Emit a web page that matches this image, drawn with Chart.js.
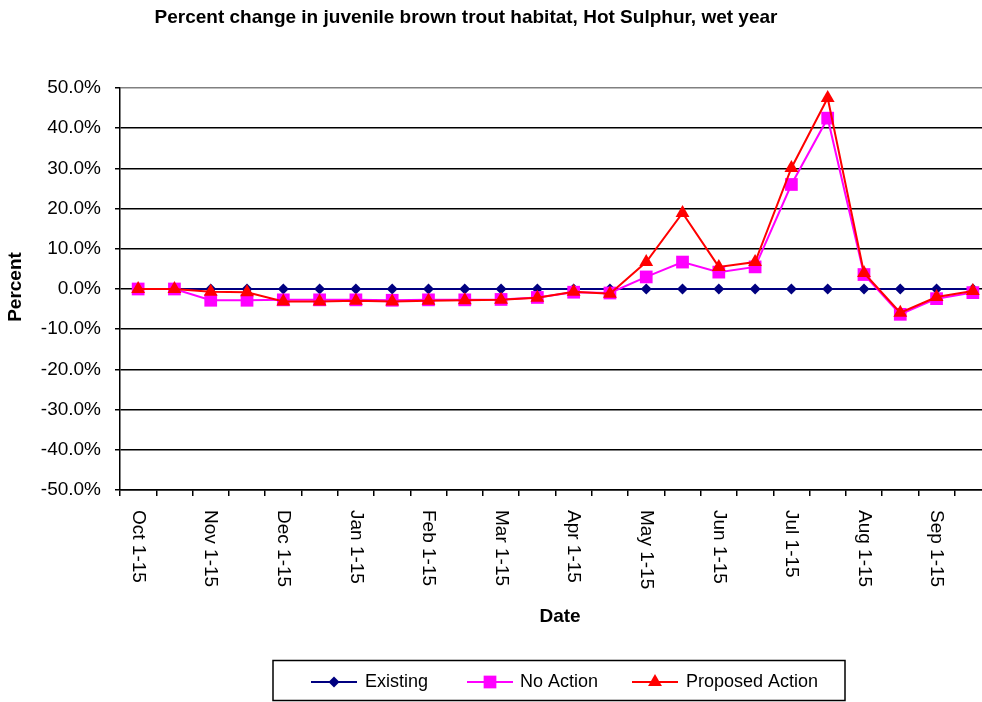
<!DOCTYPE html>
<html>
<head>
<meta charset="utf-8">
<script src="https://cdn.jsdelivr.net/npm/chart.js@4/dist/chart.umd.min.js"></script>
<style>
  html, body { margin: 0; padding: 0; background: #fff; overflow: hidden; width: 982px; height: 702px; }
  #wrap { position: relative; width: 1000px; height: 702px; }
  canvas { display: block; }
</style>
</head>
<body>
<div id="wrap"><canvas id="c" width="1000" height="702"></canvas></div>
<script>
const chartTitle = "Percent change in juvenile brown trout habitat, Hot Sulphur, wet year";
const xAxisTitle = "Date";
const yAxisTitle = "Percent";
const categories = ["Oct 1-15","Oct 16-31","Nov 1-15","Nov 16-30","Dec 1-15","Dec 16-31","Jan 1-15","Jan 16-31","Feb 1-15","Feb 16-28","Mar 1-15","Mar 16-31","Apr 1-15","Apr 16-30","May 1-15","May 16-31","Jun 1-15","Jun 16-30","Jul 1-15","Jul 16-31","Aug 1-15","Aug 16-31","Sep 1-15","Sep 16-30"];
const shownLabels = ["Oct 1-15","Nov 1-15","Dec 1-15","Jan 1-15","Feb 1-15","Mar 1-15","Apr 1-15","May 1-15","Jun 1-15","Jul 1-15","Aug 1-15","Sep 1-15"];
const seriesNames = ["Existing","No Action","Proposed Action"];
const existing = [0,0,0,0,0,0,0,0,0,0,0,0,0,0,0,0,0,0,0,0,0,0,0,0];
const noAction = [0,0,-2.8,-2.8,-2.7,-2.7,-2.7,-2.8,-2.7,-2.7,-2.6,-2.1,-0.8,-1.0,3.0,6.7,4.2,5.5,26.0,42.5,3.6,-6.3,-2.4,-0.9];
const proposed = [0,0,-0.7,-0.8,-3.1,-3.1,-2.9,-3.1,-2.9,-2.8,-2.7,-2.2,-0.7,-1.2,6.7,18.9,5.5,6.7,30.1,47.5,4.0,-5.9,-2.0,-0.5];
const yTicks = [-50,-40,-30,-20,-10,0,10,20,30,40,50];

const FONT = "'Liberation Sans', Arial, Helvetica, sans-serif";
const colors = { existing: "#000080", noAction: "#FF00FF", proposed: "#FF0000" };

function drawMarker(ctx, style, x, y, r, color) {
  ctx.save();
  ctx.fillStyle = color;
  ctx.beginPath();
  if (style === 'rectRot') {
    ctx.moveTo(x, y - r); ctx.lineTo(x + r, y); ctx.lineTo(x, y + r); ctx.lineTo(x - r, y);
  } else if (style === 'rect') {
    const s = r * Math.SQRT1_2;
    ctx.rect(x - s, y - s, 2 * s, 2 * s);
  } else {
    ctx.moveTo(x, y - r);
    ctx.lineTo(x + 0.866 * r, y + 0.5 * r);
    ctx.lineTo(x - 0.866 * r, y + 0.5 * r);
  }
  ctx.closePath();
  ctx.fill();
  ctx.restore();
}

const decor = {
  id: 'decor',
  afterDraw(chart) {
    const ctx = chart.ctx;
    const xs = chart.scales.x;
    const area = chart.chartArea;
    ctx.save();
    ctx.fillStyle = '#000';
    // title
    ctx.font = "bold 19px " + FONT;
    ctx.textAlign = 'center';
    ctx.textBaseline = 'middle';
    ctx.fillText(chartTitle, 466, 18);
    // y axis title
    ctx.save();
    ctx.translate(16, 287);
    ctx.rotate(-Math.PI / 2);
    ctx.fillText(yAxisTitle, 0, 0);
    ctx.restore();
    // x axis title
    ctx.fillText(xAxisTitle, 560, 617);
    // x tick labels (rotated clockwise)
    ctx.font = "19px " + FONT;
    ctx.textAlign = 'left';
    ctx.textBaseline = 'middle';
    categories.forEach((c, i) => {
      if (shownLabels.indexOf(c) < 0) return;
      const x = xs.getPixelForValue(i);
      ctx.save();
      ctx.translate(x, area.bottom + 20);
      ctx.rotate(Math.PI / 2);
      ctx.fillText(c, 0, 0);
      ctx.restore();
    });
    // legend
    ctx.strokeStyle = '#000';
    ctx.lineWidth = 1.5;
    ctx.strokeRect(273, 660.5, 572, 40);
    const ly = 682;
    const items = [
      { name: seriesNames[0], color: colors.existing, style: 'rectRot', r: 5.5, x1: 311, x2: 357, tx: 365 },
      { name: seriesNames[1], color: colors.noAction, style: 'rect', r: 9, x1: 467, x2: 513, tx: 520 },
      { name: seriesNames[2], color: colors.proposed, style: 'triangle', r: 8, x1: 632, x2: 678, tx: 686 }
    ];
    ctx.font = "18px " + FONT;
    ctx.textAlign = 'left';
    items.forEach(it => {
      ctx.strokeStyle = it.color;
      ctx.lineWidth = 2;
      ctx.beginPath();
      ctx.moveTo(it.x1, ly); ctx.lineTo(it.x2, ly);
      ctx.stroke();
      drawMarker(ctx, it.style, (it.x1 + it.x2) / 2, ly, it.r, it.color);
      ctx.fillStyle = '#000';
      ctx.fillText(it.name, it.tx, ly);
    });
    ctx.restore();
  }
};

new Chart(document.getElementById('c'), {
  type: 'line',
  data: {
    labels: categories,
    datasets: [
      { label: seriesNames[0], data: existing, borderColor: colors.existing, backgroundColor: colors.existing,
        borderWidth: 2, pointStyle: 'rectRot', pointRadius: 5.5, pointBorderWidth: 0, order: 2, tension: 0 },
      { label: seriesNames[1], data: noAction, borderColor: colors.noAction, backgroundColor: colors.noAction,
        borderWidth: 2, pointStyle: 'rect', pointRadius: 9, pointBorderWidth: 0, order: 1, tension: 0 },
      { label: seriesNames[2], data: proposed, borderColor: colors.proposed, backgroundColor: colors.proposed,
        borderWidth: 2, pointStyle: 'triangle', pointRadius: 8, pointBorderWidth: 0, order: 0, tension: 0 }
    ]
  },
  options: {
    responsive: false,
    animation: false,
    devicePixelRatio: 1,
    layout: { padding: { top: 88, right: 7, left: 0, bottom: 0 } },
    plugins: { legend: { display: false }, title: { display: false }, tooltip: { enabled: false } },
    scales: {
      x: {
        type: 'category',
        offset: true,
        grid: { offset: true, drawOnChartArea: false, drawTicks: true, tickLength: 6, color: '#000', lineWidth: 1.5 },
        border: { display: true, color: '#000', width: 1.5 },
        ticks: { display: false },
        afterFit(scale) { scale.height = 212; }
      },
      y: {
        min: -50, max: 50,
        afterBuildTicks(scale) { scale.ticks = yTicks.map(v => ({ value: v })); },
        grid: {
          color: ctx => (ctx.tick && ctx.tick.value === 50) ? '#808080' : '#000',
          tickColor: '#000',
          lineWidth: 1.5, tickLength: 5
        },
        border: { display: true, color: '#000', width: 1.5 },
        ticks: {
          color: '#000', padding: 14,
          font: { family: FONT, size: 19 },
          callback: v => v.toFixed(1) + '%'
        },
        afterFit(scale) { scale.width = 120; }
      }
    }
  },
  plugins: [decor]
});
</script>
</body>
</html>
